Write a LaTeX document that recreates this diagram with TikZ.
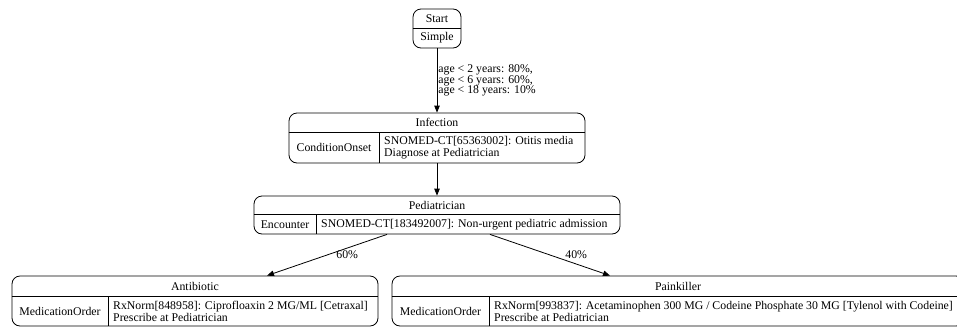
\documentclass[tikz,border=0pt]{standalone}
\usepackage{fontspec}
\setmainfont{Liberation Serif}
\usetikzlibrary{arrows.meta,positioning,calc}

\tikzset{
  record/.style={draw, rounded corners=8pt, line width=0.8pt, inner sep=0pt},
  title/.style={font=\fontsize{11.8}{12}\selectfont, inner sep=0pt},
  cell/.style={font=\fontsize{11.8}{12}\selectfont, align=left, inner sep=0pt},
  link/.style={-{Triangle[length=7pt,width=5.5pt]}, line width=0.8pt},
  weight/.style={font=\fontsize{11.8}{10.5}\selectfont, align=left, inner sep=1pt},
}

\begin{document}
\begin{tikzpicture}[x=1pt, y=-1pt]
    \useasboundingbox (0,0) rectangle (957,327);
    \clip (0,0) rectangle (957,327);

    % Start
    \node[record, minimum width=48pt, minimum height=39pt] (start) at (437,28.5) {};
    \node[title] (startname) at (437,18.5) {Start};
    \node[title] (starttype) at (437,38) {Simple};
    \draw[line width=0.8pt] (start.west |- 0,28) -- (start.east |- 0,28);

    % Infection
    \node[record, minimum width=296pt, minimum height=50pt] (infection) at (437,138) {};
    \node[title] (infectionname) at (437,122.5) {Infection};
    \draw[line width=0.8pt] (infection.west |- 0,132) -- (infection.east |- 0,132);
    \draw[line width=0.8pt] (379,132) -- (379,132 |- infection.south);
    \node[cell] (infectionkind) at (334,147.5) {ConditionOnset};
    \node[cell, anchor=west] (infectiondesc) at (384,147.5)
        {SNOMED-CT[65363002]: Otitis media\\Diagnose at Pediatrician};

    % Pediatrician
    \node[record, minimum width=366pt, minimum height=38pt] (pediatrician) at (437,215) {};
    \node[title] (pediatricianname) at (437,205) {Pediatrician};
    \draw[line width=0.8pt] (pediatrician.west |- 0,214) -- (pediatrician.east |- 0,214);
    \draw[line width=0.8pt] (316,214) -- (316,214 |- pediatrician.south);
    \node[cell] (pediatriciankind) at (285,224.5) {Encounter};
    \node[cell, anchor=west] (pediatriciandesc) at (321,224.5)
        {SNOMED-CT[183492007]: Non-urgent pediatric admission};

    % Antibiotic
    \node[record, minimum width=366pt, minimum height=50pt] (antibiotic) at (195,301) {};
    \node[title] (antibioticname) at (195,286) {Antibiotic};
    \draw[line width=0.8pt] (antibiotic.west |- 0,296) -- (antibiotic.east |- 0,296);
    \draw[line width=0.8pt] (108,296) -- (108,296 |- antibiotic.south);
    \node[cell] (antibiotickind) at (60,311) {MedicationOrder};
    \node[cell, anchor=west] (antibioticdesc) at (113,311)
        {RxNorm[848958]: Ciprofloaxin 2 MG/ML [Cetraxal]\\Prescribe at Pediatrician};

    % Painkiller
    \node[record, minimum width=572pt, minimum height=50pt] (painkiller) at (678,301) {};
    \node[title] (painkillername) at (678,286) {Painkiller};
    \draw[line width=0.8pt] (painkiller.west |- 0,296) -- (painkiller.east |- 0,296);
    \draw[line width=0.8pt] (489,296) -- (489,296 |- painkiller.south);
    \node[cell] (painkillerkind) at (440.5,311) {MedicationOrder};
    \node[cell, anchor=west] (painkillerdesc) at (494,311)
        {RxNorm[993837]: Acetaminophen 300 MG / Codeine Phosphate 30 MG [Tylenol with Codeine]\\Prescribe at Pediatrician};

    % Connections
    \draw[link] (start) -- node[weight, midway, right=0pt]
        {age < 2 years: 80\%,\\age < 6 years: 60\%,\\age < 18 years: 10\%} (infection);
    \draw[link] (infection) -- (pediatrician);
    \draw[link] ([xshift=-50pt]pediatrician.south) -- node[weight, midway, right=8pt] {60\%}
        ([xshift=72pt]antibiotic.north);
    \draw[link] ([xshift=53pt]pediatrician.south) -- node[weight, midway, right=14pt] {40\%}
        ([xshift=-68pt]painkiller.north);
\end{tikzpicture}
\end{document}
